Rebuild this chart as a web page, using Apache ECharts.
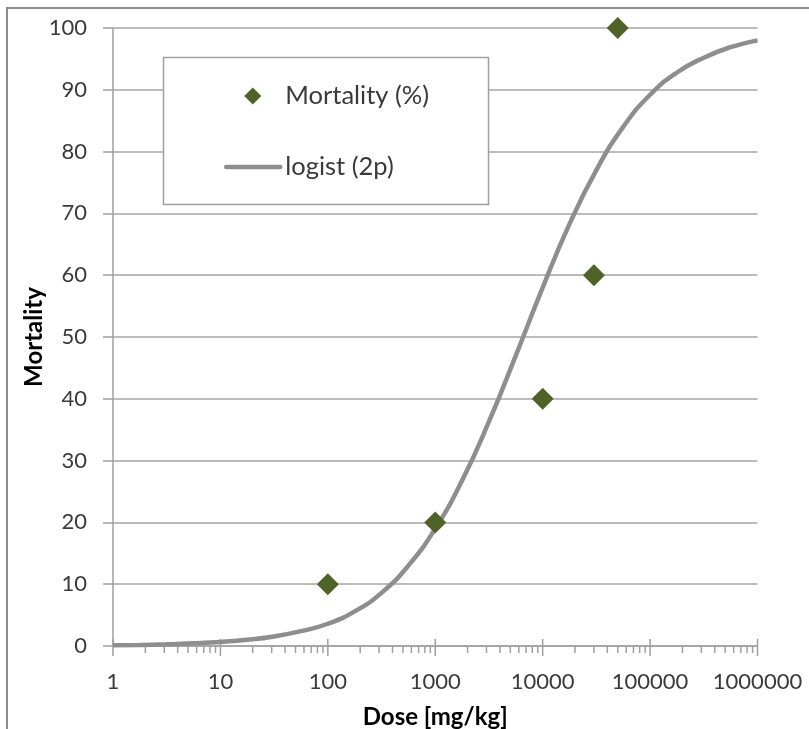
<!DOCTYPE html>
<html>
<head>
<meta charset="utf-8">
<script src="https://cdn.jsdelivr.net/npm/echarts@6/dist/echarts.min.js"></script>
<style>
  html, body { margin: 0; padding: 0; background: #fff; }
  #chart { width: 809px; height: 729px; }
</style>
</head>
<body>
<div id="chart"></div>
<script>
// observed points
var doseObs = [100, 1000, 10000, 30000, 50000];
var mortObs = [10, 20, 40, 60, 100];

// fitted logistic curve, every quarter decade
var doseFit = [1, 1.78, 3.16, 5.62, 10, 17.8, 31.6, 56.2, 100, 178, 316, 562, 1000,
               1780, 3160, 5620, 10000, 17800, 31600, 56200, 100000, 178000, 316000, 562000, 1000000];
var mortFit = [0.12, 0.18, 0.28, 0.43, 0.65, 1.0, 1.55, 2.4, 3.6, 5.6, 8.6, 13, 19,
               26.8, 36.3, 47, 58, 68.3, 77, 84, 89.2, 92.8, 95.2, 96.9, 98.0];

var xTickLabels = ['1', '10', '100', '1000', '10000', '100000', '1000000'];
var yTicks = [0, 10, 20, 30, 40, 50, 60, 70, 80, 90, 100];

// log minor ticks 2..9 per decade, plus decade ticks
var minorTicks = [];
var majorTicks = [];
for (var d = 0; d < xTickLabels.length; d++) {
    var base = Math.pow(10, d);
    majorTicks.push([base, 0]);
    if (d < xTickLabels.length - 1) {
        for (var m = 2; m <= 9; m++) minorTicks.push([m * base, 0]);
    }
}

function pairs(xs, ys) {
    return xs.map(function (x, i) { return [x, ys[i]]; });
}

var font = 'Lato, "Open Sans", sans-serif';
var chart = echarts.init(document.getElementById('chart'));
chart.setOption({
    animation: false,
    textStyle: { fontFamily: font },
    grid: { left: 113, top: 28, right: 51.5, bottom: 83, outerBoundsMode: 'none', containLabel: false },
    graphic: [
        { type: 'rect', z: 100, silent: true, shape: { x: 7, y: 8, width: 830, height: 760 },
          style: { fill: 'none', stroke: '#8c8c8c', lineWidth: 2 } },
        { type: 'rect', z: 3, silent: true, shape: { x: 163.5, y: 57.5, width: 325, height: 147 },
          style: { fill: '#fff', stroke: '#a0a0a0', lineWidth: 1.5 } }
    ],
    legend: {
        z: 10,
        left: 219, top: 78,
        orient: 'vertical',
        itemWidth: 54, itemHeight: 17, itemGap: 45,
        data: [
            { name: 'Mortality (%)',
              icon: 'path://M0,8.5L0,8.5M54,8.5L54,8.5M18,8.5L26.5,0L35,8.5L26.5,17Z' },
            { name: 'logist (2p)',
              itemStyle: { opacity: 0 },
              lineStyle: { width: 4.5, color: '#8e8e8e', cap: 'round' } }
        ],
        textStyle: { fontFamily: font, fontSize: 25.5, lineHeight: 22, color: '#3a3a3a' }
    },
    xAxis: {
        type: 'log', logBase: 10, min: 1, max: 1000000,
        name: 'Dose [mg/kg]', nameLocation: 'middle', nameGap: 59, nameMoveOverlap: false,
        nameTextStyle: { fontFamily: font, fontSize: 24, fontWeight: 'bold', color: '#000' },
        axisLine: { lineStyle: { color: '#a0a0a0', width: 1.5 } },
        axisTick: { show: false },
        splitLine: { show: false },
        axisLabel: {
            margin: 25, fontSize: 22, color: '#3a3a3a',
            formatter: function (v) { return xTickLabels[Math.round(Math.log10(v))]; }
        }
    },
    yAxis: {
        type: 'value', min: 0, max: 100, interval: 10,
        name: 'Mortality', nameLocation: 'middle', nameGap: 67, nameMoveOverlap: false,
        nameTextStyle: { fontFamily: font, fontSize: 24, fontWeight: 'bold', color: '#000' },
        axisLine: { show: true, lineStyle: { color: '#a0a0a0', width: 1.5 } },
        axisTick: { show: true, length: 10, lineStyle: { color: '#a0a0a0', width: 1.5 } },
        splitLine: { lineStyle: { color: '#a6a6a6', width: 1.5 } },
        axisLabel: {
            margin: 26, fontSize: 22, color: '#3a3a3a',
            formatter: function (v) { return yTicks.indexOf(v) >= 0 ? String(v) : ''; }
        }
    },
    series: [
        {
            name: 'minor', type: 'scatter', silent: true, clip: false, z: 1,
            data: minorTicks, symbol: 'rect', symbolSize: [1.5, 7], symbolOffset: [0, 3.5],
            itemStyle: { color: '#a0a0a0', opacity: 1 }
        },
        {
            name: 'major', type: 'scatter', silent: true, clip: false, z: 1,
            data: majorTicks, symbol: 'rect', symbolSize: [1.5, 17], symbolOffset: [0, 1.5],
            itemStyle: { color: '#a0a0a0', opacity: 1 }
        },
        {
            name: 'logist (2p)', type: 'line', smooth: true, symbol: 'none', showSymbol: false, z: 2,
            data: pairs(doseFit, mortFit),
            itemStyle: { color: '#8e8e8e' },
            lineStyle: { color: '#8e8e8e', width: 4.5 }
        },
        {
            name: 'Mortality (%)', type: 'scatter', symbol: 'diamond', symbolSize: 22, z: 4, clip: false,
            data: pairs(doseObs, mortObs),
            itemStyle: { color: '#4f6228', opacity: 1 }
        }
    ]
});
</script>
</body>
</html>
